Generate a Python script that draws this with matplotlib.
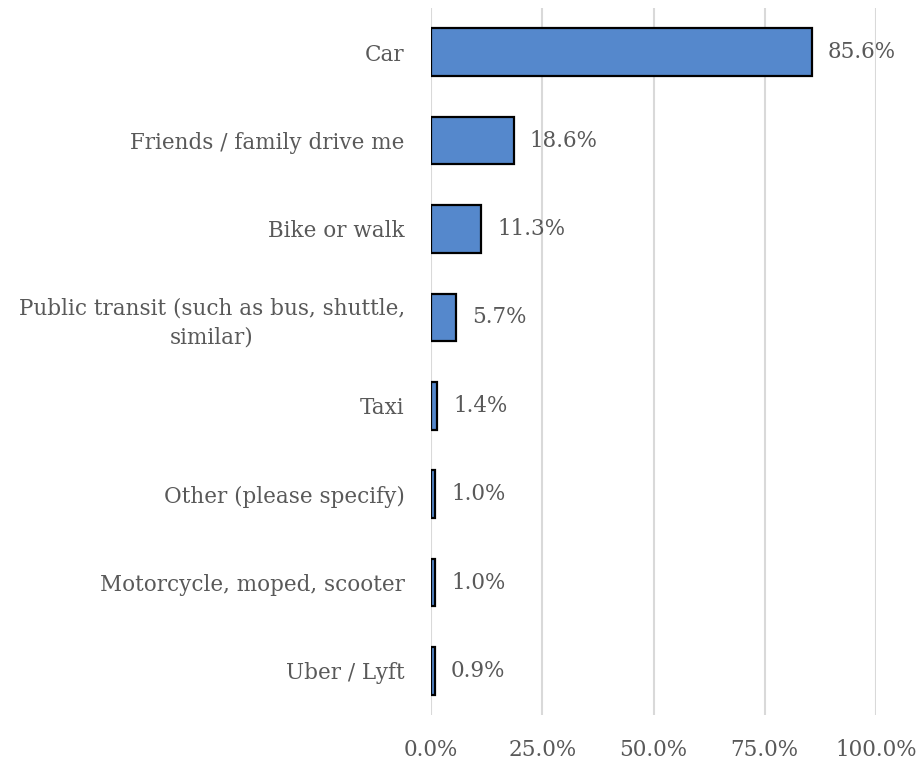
import matplotlib.pyplot as plt
from matplotlib.ticker import FuncFormatter

categories = ["Car", "Friends / family drive me", "Bike or walk",
              "Public transit (such as bus, shuttle,\nsimilar)", "Taxi",
              "Other (please specify)", "Motorcycle, moped, scooter",
              "Uber / Lyft"]
shares = [85.6, 18.6, 11.3, 5.7, 1.4, 1.0, 1.0, 0.9]
x_ticks = [0, 25, 50, 75, 100]

TEXT = "#595959"
plt.rcParams["font.family"] = ["DejaVu Serif"]

fig = plt.figure(figsize=(9.2, 7.64), dpi=100)
ax = fig.add_axes([0.4685, 0.064, 0.4837, 0.9255])

pos = list(range(len(categories)))
ax.barh(pos, shares, height=0.54, color="#5588cc", edgecolor="black",
        linewidth=1.6, zorder=3)
for y, v in zip(pos, shares):
    ax.text(v + 3.6, y, f"{v:.1f}%", va="center", ha="left",
            fontsize=15.5, color=TEXT, zorder=4)

ax.set_ylim(len(categories) - 0.5, -0.5)
ax.set_xlim(0, 100)
ax.set_yticks(pos)
ax.set_yticklabels(categories, multialignment="center", linespacing=1.4)
ax.set_xticks(x_ticks)
ax.xaxis.set_major_formatter(FuncFormatter(lambda v, _: f"{v:.1f}%"))
ax.tick_params(axis="both", length=0, labelsize=15.5, labelcolor=TEXT)
ax.tick_params(axis="y", pad=19)
ax.tick_params(axis="x", pad=17)
ax.grid(axis="x", color="#d9d9d9", linewidth=1.5, zorder=0)
for s in ax.spines.values():
    s.set_visible(False)

fig.savefig("out.png", dpi=100)
